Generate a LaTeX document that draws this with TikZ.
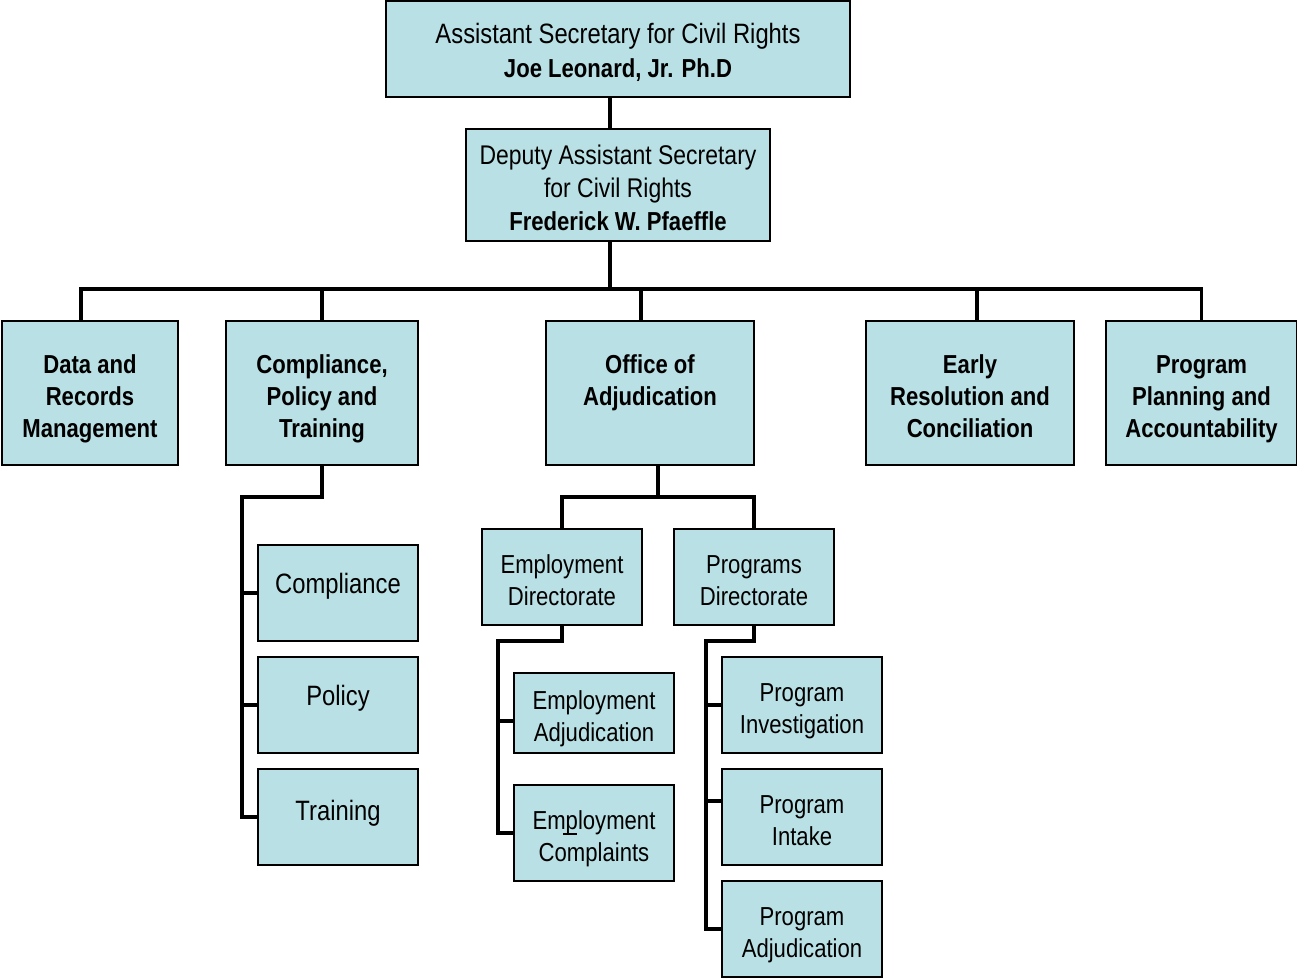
\documentclass[tikz,border=0pt]{standalone}
\usepackage{fontspec}
\setmainfont{Liberation Sans}[FakeStretch=0.85]
\definecolor{boxfill}{RGB}{185,224,228}
\newcommand{\vdrop}[1]{\rule{0pt}{#1}}
\tikzset{
  box/.style={draw, fill=boxfill, line width=2pt, align=center, inner sep=0pt},
  link/.style={line width=3.5pt},
  bigbox/.style={box, font=\fontsize{28}{34}\selectfont},
  headbox/.style={box, font=\bfseries\fontsize{26}{32}\selectfont, minimum height=144pt},
  subbox/.style={box, font=\fontsize{26}{32}\selectfont, minimum width=160pt, minimum height=96pt}
}
\begin{document}
\begin{tikzpicture}[x=1pt, y=-1pt]
    \useasboundingbox (0,0) rectangle (1297,978);

    % Nodes, top of the chart
    \node (top) [bigbox, minimum width=464pt, minimum height=96pt] at (618,49) {\vdrop{27pt}Assistant Secretary for Civil Rights\\\textbf{\fontsize{26}{34}\selectfont Joe Leonard, Jr. Ph.D}};
    \node (deputy) [box, font=\fontsize{27}{33}\selectfont, minimum width=304pt, minimum height=112pt] at (618,185) {\vdrop{26pt}Deputy Assistant Secretary\\for Civil Rights\\\textbf{\fontsize{26}{33}\selectfont Frederick W. Pfaeffle}};

    % Nodes, offices
    \node (data) [headbox, minimum width=176pt] at (90,393) {\vdrop{31pt}Data and\\Records\\Management};
    \node (cpt) [headbox, minimum width=192pt] at (322,393) {\vdrop{31pt}Compliance,\\Policy and\\Training};
    \node (adj) [headbox, minimum width=208pt] at (650,393) {\vdrop{25pt}Office of\\Adjudication\\{}};
    \node (early) [headbox, minimum width=208pt] at (970,393) {\vdrop{25pt}Early\\Resolution and\\Conciliation};
    \node (ppa) [headbox, minimum width=191pt] at (1201.5,393) {\vdrop{31pt}Program\\Planning and\\Accountability};

    % Nodes, divisions
    \node (compliance) [subbox, font=\fontsize{28}{32}\selectfont] at (338,593) {\raisebox{20pt}{Compliance}};
    \node (policy) [subbox, font=\fontsize{28}{32}\selectfont] at (338,705) {\raisebox{20pt}{Policy}};
    \node (training) [subbox, font=\fontsize{28}{32}\selectfont] at (338,817) {\raisebox{13pt}{Training}};

    \node (empdir) [subbox] at (562,577) {\vdrop{26pt}Employment\\Directorate};
    \node (progdir) [subbox] at (754,577) {\vdrop{26pt}Programs\\Directorate};
    \node (empadj) [subbox, minimum height=80pt] at (594,713) {\vdrop{31pt}Employment\\Adjudication};
    \node (empcomp) [subbox] at (594,833) {\vdrop{31pt}Employment\\Complaints};
    \node (proginv) [subbox] at (802,705) {\vdrop{31pt}Program\\Investigation};
    \node (progintake) [subbox] at (802,817) {\vdrop{26pt}Program\\Intake};
    \node (progadj) [subbox] at (802,929) {\vdrop{31pt}Program\\Adjudication};

    % Edges
    \coordinate (bus) at (610,289);
    \draw[link] ([xshift=-8pt]top.south) -- ([xshift=-8pt]deputy.north);
    \draw[link] ([xshift=-8pt]deputy.south) -- (bus);
    \foreach \n/\dx in {data/-9, cpt/0, adj/-9, early/7, ppa/0}
        \draw[link] ([xshift=\dx pt]\n.north) |- (bus);

    \coordinate (cptknee) at (242,497);
    \draw[link] (cpt.south) |- (cptknee) |- (training.west);
    \draw[link] (compliance.west) -- (compliance.west -| cptknee);
    \draw[link] (policy.west) -- (policy.west -| cptknee);

    \coordinate (adjbus) at (658,497);
    \draw[link] ([xshift=8pt]adj.south) -- (adjbus);
    \draw[link] (empdir.north) |- (adjbus);
    \draw[link] (progdir.north) |- (adjbus);

    \coordinate (empknee) at (498,641);
    \draw[link] (empdir.south) |- (empknee) |- (empcomp.west);
    \draw[link] ([yshift=-8pt]empadj.west) -- ([yshift=-8pt]empadj.west -| empknee);

    \coordinate (progknee) at (706,641);
    \draw[link] (progdir.south) |- (progknee) |- (progadj.west);
    \draw[link] (proginv.west) -- (proginv.west -| progknee);
    \draw[link] ([yshift=16pt]progintake.west) -- ([yshift=16pt]progintake.west -| progknee);

    % stray mark in the Employment Complaints box
    \draw[line width=1.5pt] (563,834) -- (577,834);

\end{tikzpicture}
\end{document}
